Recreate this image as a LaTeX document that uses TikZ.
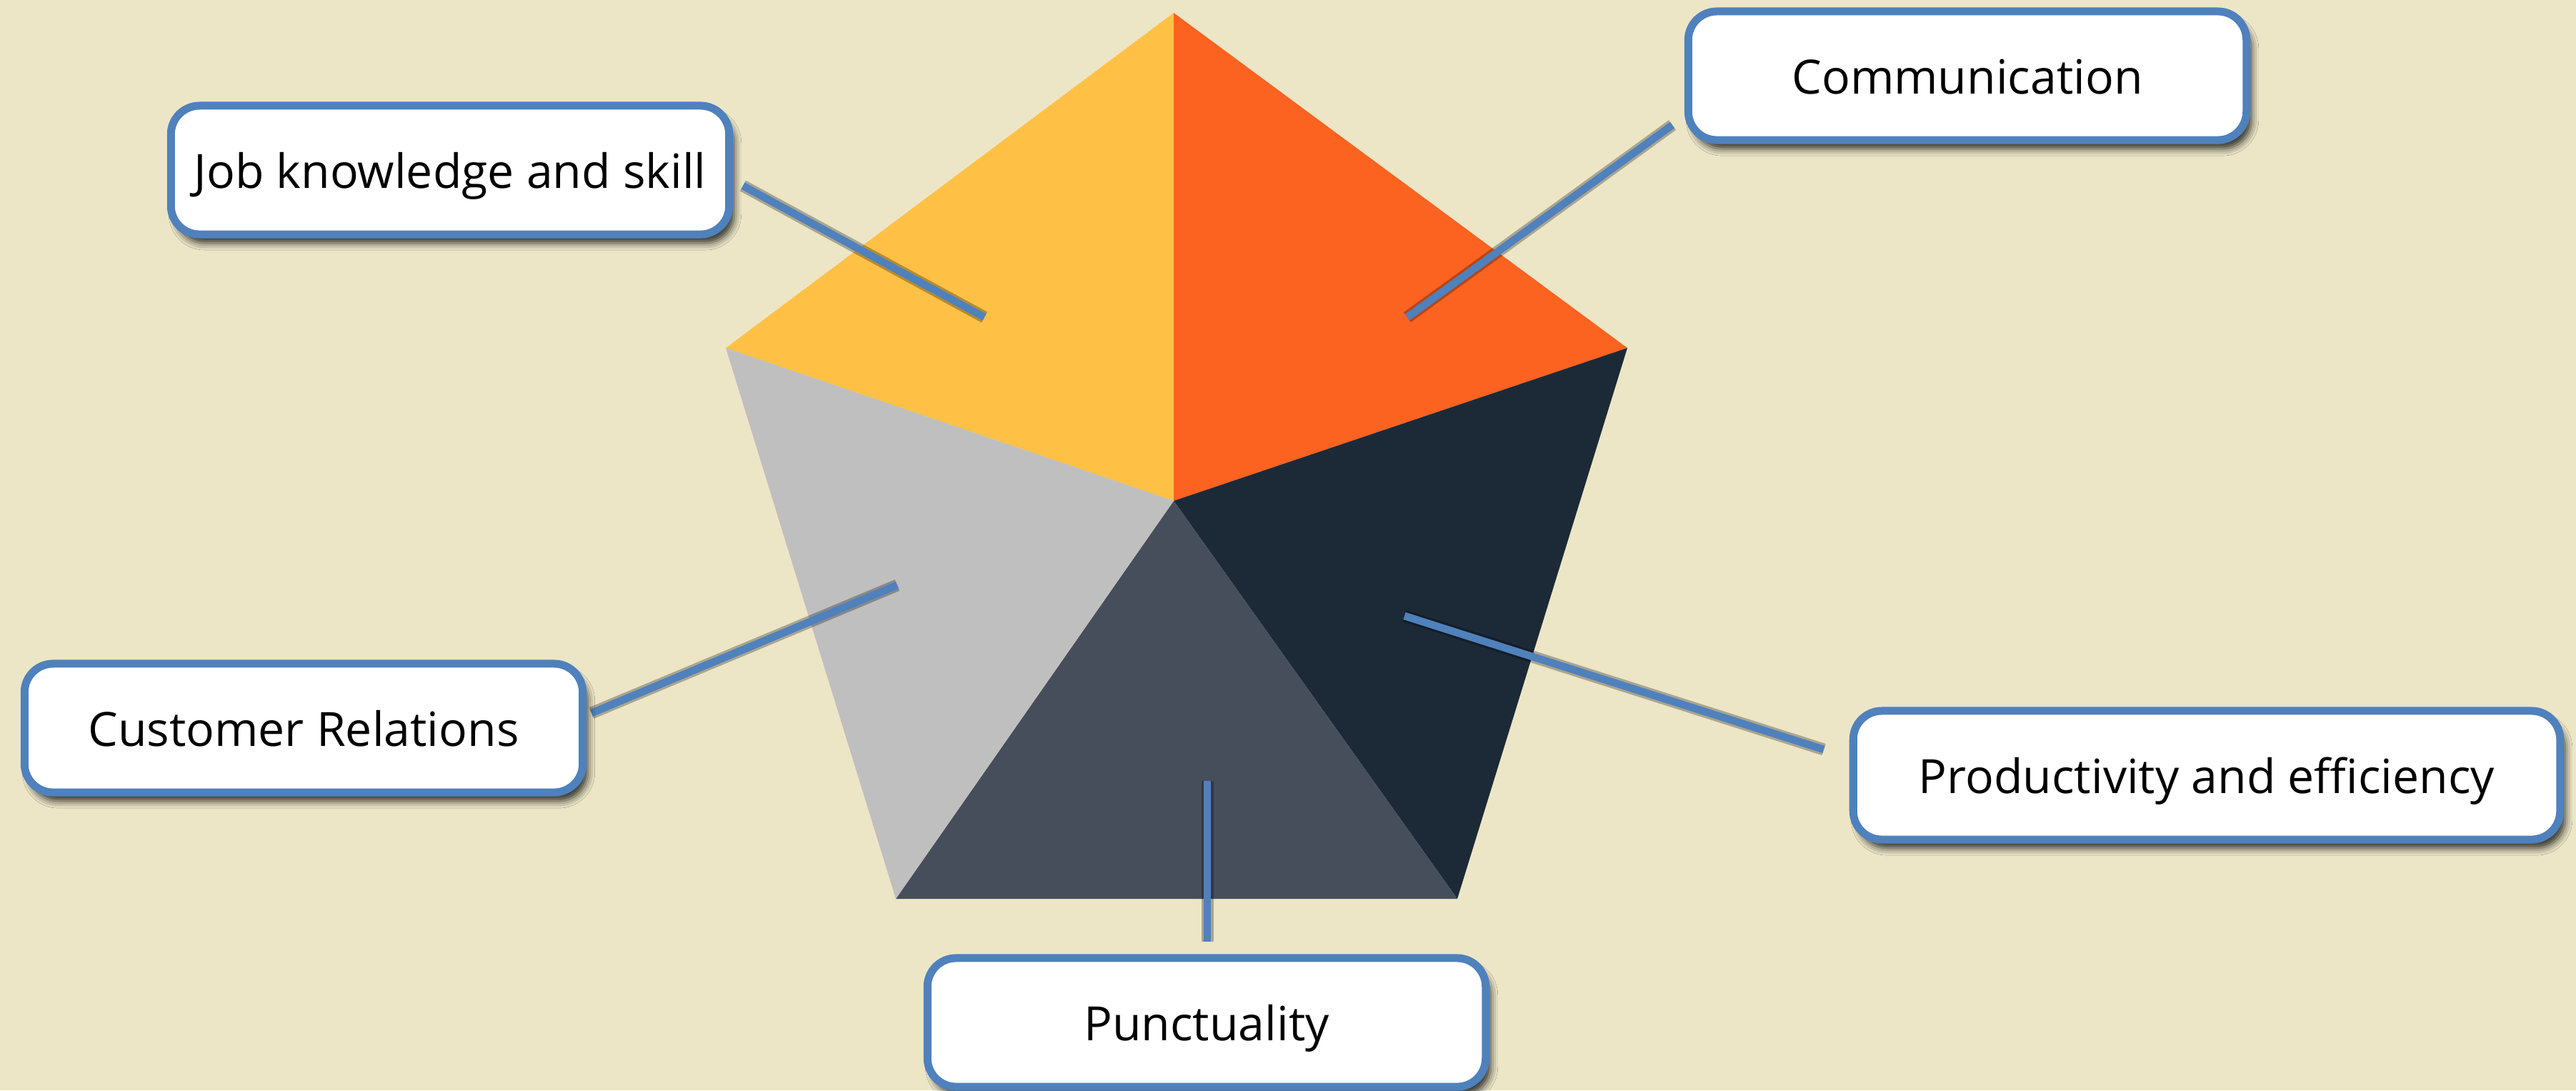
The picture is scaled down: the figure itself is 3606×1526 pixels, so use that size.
\documentclass[tikz,border=0pt]{standalone}
\usepackage{fontspec}
\setmainfont{Open Sans}
\usetikzlibrary{shadows.blur}
\definecolor{bg}{HTML}{ECE6C7}
\definecolor{segyellow}{HTML}{FEC145}
\definecolor{segorange}{HTML}{FC6220}
\definecolor{seglight}{HTML}{BFBFBF}
\definecolor{segslate}{HTML}{474E5B}
\definecolor{segnavy}{HTML}{1C2A38}
\definecolor{linkblue}{HTML}{4F81BD}
\begin{document}
\begin{tikzpicture}[x=0.01cm,y=-0.01cm,
  label box/.style={draw=linkblue, line width=0.11cm, fill=white, rounded corners=0.4cm,
    minimum width=7.81cm, minimum height=1.80cm, inner sep=0pt,
    text height=0.5cm, text depth=0cm,
    font=\fontsize{18.8}{22}\selectfont,
    blur shadow={shadow xshift=0.07cm, shadow yshift=-0.12cm, shadow blur radius=0.1cm, shadow opacity=80}},
  link/.style={draw=linkblue, line width=0.105cm},
  link shadow/.style={draw=black, line width=0.17cm, opacity=0.28},
]
\fill[bg] (0,0) rectangle (3606,1526);
\useasboundingbox (0,0) rectangle (3606,1526);

% pentagon
\coordinate (pT) at (1643,18);
\coordinate (pUR) at (2278,487);
\coordinate (pLR) at (2040,1258);
\coordinate (pLL) at (1254,1258);
\coordinate (pUL) at (1016,487);
\coordinate (pC) at (1643,701);
\fill[segyellow] (pC) -- (pUL) -- (pT) -- cycle;
\fill[segorange] (pC) -- (pT) -- (pUR) -- cycle;
\fill[segnavy] (pC) -- (pUR) -- (pLR) -- cycle;
\fill[segslate] (pC) -- (pLR) -- (pLL) -- cycle;
\fill[seglight] (pC) -- (pLL) -- (pUL) -- cycle;

% connector end points
\coordinate (jobA) at (1040,260);  \coordinate (jobB) at (1378,444);
\coordinate (comA) at (2341,175);  \coordinate (comB) at (1970,444);
\coordinate (cusA) at (828,998);   \coordinate (cusB) at (1256,819);
\coordinate (proA) at (2553,1049); \coordinate (proB) at (1966,862);
\coordinate (punA) at (1690,1318); \coordinate (punB) at (1690,1093);

% connector shadows
\begin{scope}[shift={(7,12)}]
  \foreach \a/\b in {jobA/jobB,comA/comB,cusA/cusB,proA/proB,punA/punB}
    \draw[link shadow] (\a) -- (\b);
\end{scope}
% connectors
\draw[link] (jobA) -- (jobB);
\draw[link] (comA) -- (comB);
\draw[link] (cusA) -- (cusB);
\draw[link] (proA) -- (proB);
\draw[link] (punA) -- (punB);

% label boxes
\node[label box] (job) at (630,238) {Job knowledge and skill};
\node[label box] (com) at (2754,106) {Communication};
\node[label box] (cus) at (425,1019) {Customer Relations};
\node[label box, minimum width=9.89cm] (pro) at (3089,1085) {Productivity and efficiency};
\node[label box] (pun) at (1689,1431) {Punctuality};
\end{tikzpicture}
\end{document}
